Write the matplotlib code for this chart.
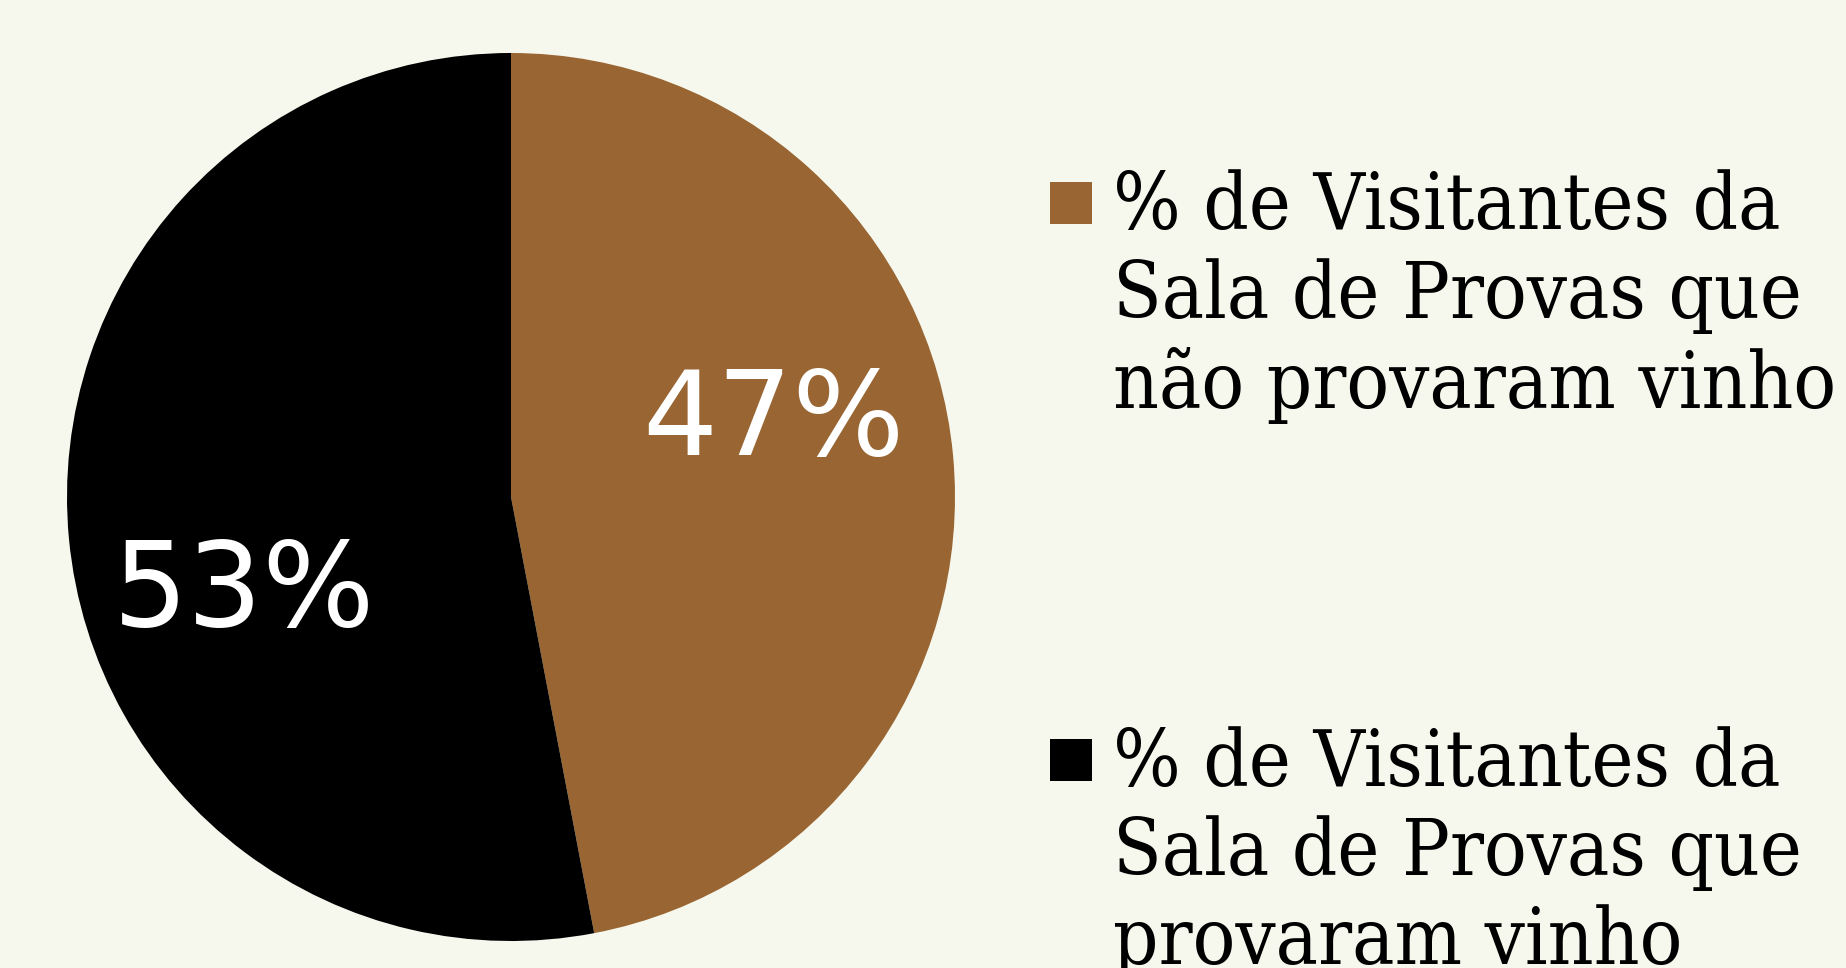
import numpy as np
import matplotlib
matplotlib.use("Agg")
import matplotlib.pyplot as plt
from matplotlib.patches import Rectangle

# dados do gráfico
rotulos = ["% de Visitantes da\nSala de Provas que\nnão provaram vinho",
           "% de Visitantes da\nSala de Provas que\nprovaram vinho"]
valores = [47, 53]
cores = ["#996633", "#000000"]
fundo = "#F6F8EE"

fig = plt.figure(figsize=(18.46, 9.68), dpi=100, facecolor=fundo)
ax = fig.add_axes([67 / 1846, 27 / 968, 888 / 1846, 888 / 968])
ax.set_facecolor(fundo)

fatias, _ = ax.pie(valores, colors=cores, startangle=90, counterclock=False,
                   radius=1.0, wedgeprops=dict(linewidth=0))
ax.set_xlim(-1, 1)
ax.set_ylim(-1, 1)
ax.set_aspect("equal")
ax.axis("off")

# percentagens dentro das fatias (posição ajustada à mão)
desvios = [10.5, 14.5]
raios = [0.615, 0.64]
for fatia, v, d, r in zip(fatias, valores, desvios, raios):
    ang = np.deg2rad((fatia.theta1 + fatia.theta2) / 2 + d)
    ax.text(r * np.cos(ang), r * np.sin(ang), f"{v}%", color="white",
            fontsize=85, ha="center", va="center", family="DejaVu Sans")

# legenda manual
topos = [169, 726]
quadrados = [182, 739]
for rot, cor, yt, yq in zip(rotulos, cores, topos, quadrados):
    fig.patches.append(Rectangle((1050 / 1846, 1 - (yq + 42) / 968), 42 / 1846, 42 / 968,
                                 transform=fig.transFigure, facecolor=cor,
                                 edgecolor="none"))
    fig.text(1113 / 1846, 1 - yt / 968, rot, fontsize=57, va="top", ha="left",
             family="DejaVu Serif", fontstretch="condensed", linespacing=1.22,
             color="black")

fig.savefig("out.png", dpi=100, facecolor=fundo)
